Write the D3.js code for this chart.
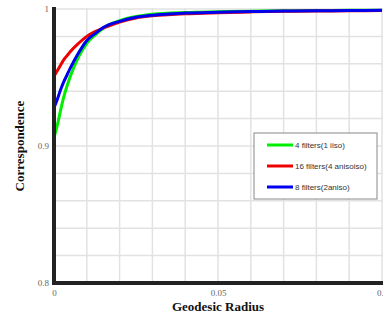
<!DOCTYPE html>
<html>
<head>
<meta charset="utf-8">
<script src="https://cdn.jsdelivr.net/npm/d3@7"></script>
<style>
  body { margin: 0; background: #fff; }
  .tick text { font-family: "Liberation Serif", "Times New Roman", serif; font-size: 9px; fill: #666; }
  .axis-title { font-family: "Liberation Serif", "Times New Roman", serif; font-size: 13px; font-weight: bold; fill: #111; }
  .legend text { font-family: "Liberation Sans", Arial, sans-serif; font-size: 8px; fill: #333; }
</style>
</head>
<body>
<div id="chart"></div>
<script>
// radius samples along x
const radius = [0, 0.001, 0.002, 0.003, 0.004, 0.005, 0.0075, 0.01, 0.0125, 0.015, 0.02, 0.025, 0.03, 0.04, 0.05, 0.06, 0.07, 0.08, 0.09, 0.1];

// correspondence values
const green4 = [0.906, 0.915, 0.926, 0.936, 0.944, 0.951, 0.965, 0.975, 0.981, 0.986, 0.9915, 0.9945, 0.9962, 0.9975, 0.998, 0.9984, 0.9987, 0.9989, 0.999, 0.9991];
const red16 = [0.951, 0.955, 0.959, 0.963, 0.966, 0.969, 0.975, 0.980, 0.9835, 0.986, 0.9905, 0.9935, 0.995, 0.9965, 0.9973, 0.9979, 0.9983, 0.9985, 0.9987, 0.9989];
const blue8 = [0.928, 0.934, 0.941, 0.947, 0.952, 0.957, 0.968, 0.977, 0.982, 0.9865, 0.991, 0.994, 0.9955, 0.997, 0.9976, 0.9981, 0.9985, 0.9987, 0.9989, 0.999];

const seriesNames = ["4 filters(1 iiso)", "16 filters(4 anisoiso)", "8 filters(2aniso)"];
const seriesColors = ["#00ee00", "#ee0000", "#0000ee"];
const seriesValues = [green4, red16, blue8];

const xTicks = [0, 0.05, 0.1];
const yTicks = [0.8, 0.9, 1];
const xGrid = d3.range(0, 0.1001, 0.01);
const yGrid = d3.range(0.8, 1.0001, 0.02);

const W = 383, H = 316;
const margin = {top: 9, right: 1, bottom: 33, left: 54};

const svg = d3.select("#chart").append("svg")
    .attr("width", W)
    .attr("height", H);

const x = d3.scaleLinear().domain([0, 0.1]).range([margin.left, W - margin.right]);
const y = d3.scaleLinear().domain([0.8, 1]).range([H - margin.bottom, margin.top]);

// grid
svg.append("g").selectAll("line.vg")
    .data(xGrid).enter().append("line")
    .attr("x1", d => x(d)).attr("x2", d => x(d))
    .attr("y1", y(1) - 1).attr("y2", y(0.8))
    .attr("stroke", "#e2e2e2").attr("stroke-width", 1.5);

svg.append("g").selectAll("line.hg")
    .data(yGrid).enter().append("line")
    .attr("x1", x(0)).attr("x2", W)
    .attr("y1", d => y(d)).attr("y2", d => y(d))
    .attr("stroke", "#e2e2e2").attr("stroke-width", 1.5);

// lines
const line = d3.line()
    .x((d, i) => x(radius[i]))
    .y(d => y(d))
    .curve(d3.curveMonotoneX);

svg.append("g").selectAll("path.series")
    .data(seriesValues).enter().append("path")
    .attr("class", "series")
    .attr("d", d => line(d))
    .attr("fill", "none")
    .attr("stroke", (d, i) => seriesColors[i])
    .attr("stroke-width", 3);

// axes
const xAxis = svg.append("g")
    .attr("transform", `translate(0,${y(0.8)})`)
    .call(d3.axisBottom(x).tickValues(xTicks).tickSize(0).tickPadding(7).tickFormat(d3.format("")));
xAxis.select(".domain").remove();

const yAxis = svg.append("g")
    .attr("transform", `translate(${x(0)},0)`)
    .call(d3.axisLeft(y).tickValues(yTicks).tickSize(0).tickPadding(5).tickFormat(d3.format("")));
yAxis.select(".domain").remove();

svg.append("line")
    .attr("x1", x(0)).attr("x2", x(0))
    .attr("y1", y(1) - 2).attr("y2", y(0.8) + 2)
    .attr("stroke", "#222").attr("stroke-width", 4);

svg.append("line")
    .attr("x1", x(0) - 2).attr("x2", W)
    .attr("y1", y(0.8)).attr("y2", y(0.8))
    .attr("stroke", "#222").attr("stroke-width", 4);

// axis titles
svg.append("text")
    .attr("class", "axis-title")
    .attr("x", x(0.05))
    .attr("y", 311)
    .attr("text-anchor", "middle")
    .text("Geodesic Radius");

svg.append("text")
    .attr("class", "axis-title")
    .attr("transform", `translate(24,${y(0.9)}) rotate(-90)`)
    .attr("text-anchor", "middle")
    .text("Correspondence");

// legend
const legend = svg.append("g").attr("class", "legend")
    .attr("transform", "translate(254,133)");

legend.append("rect")
    .attr("width", 123).attr("height", 66)
    .attr("fill", "#fff")
    .attr("stroke", "#888").attr("stroke-width", 1);

const item = legend.selectAll("g.item")
    .data(seriesNames).enter().append("g")
    .attr("transform", (d, i) => `translate(13,${12 + i * 21})`);

item.append("line")
    .attr("x1", 0).attr("x2", 26)
    .attr("stroke", (d, i) => seriesColors[i])
    .attr("stroke-width", 3);

item.append("text")
    .attr("x", 28).attr("dy", "0.35em")
    .text(d => d);
</script>
</body>
</html>
